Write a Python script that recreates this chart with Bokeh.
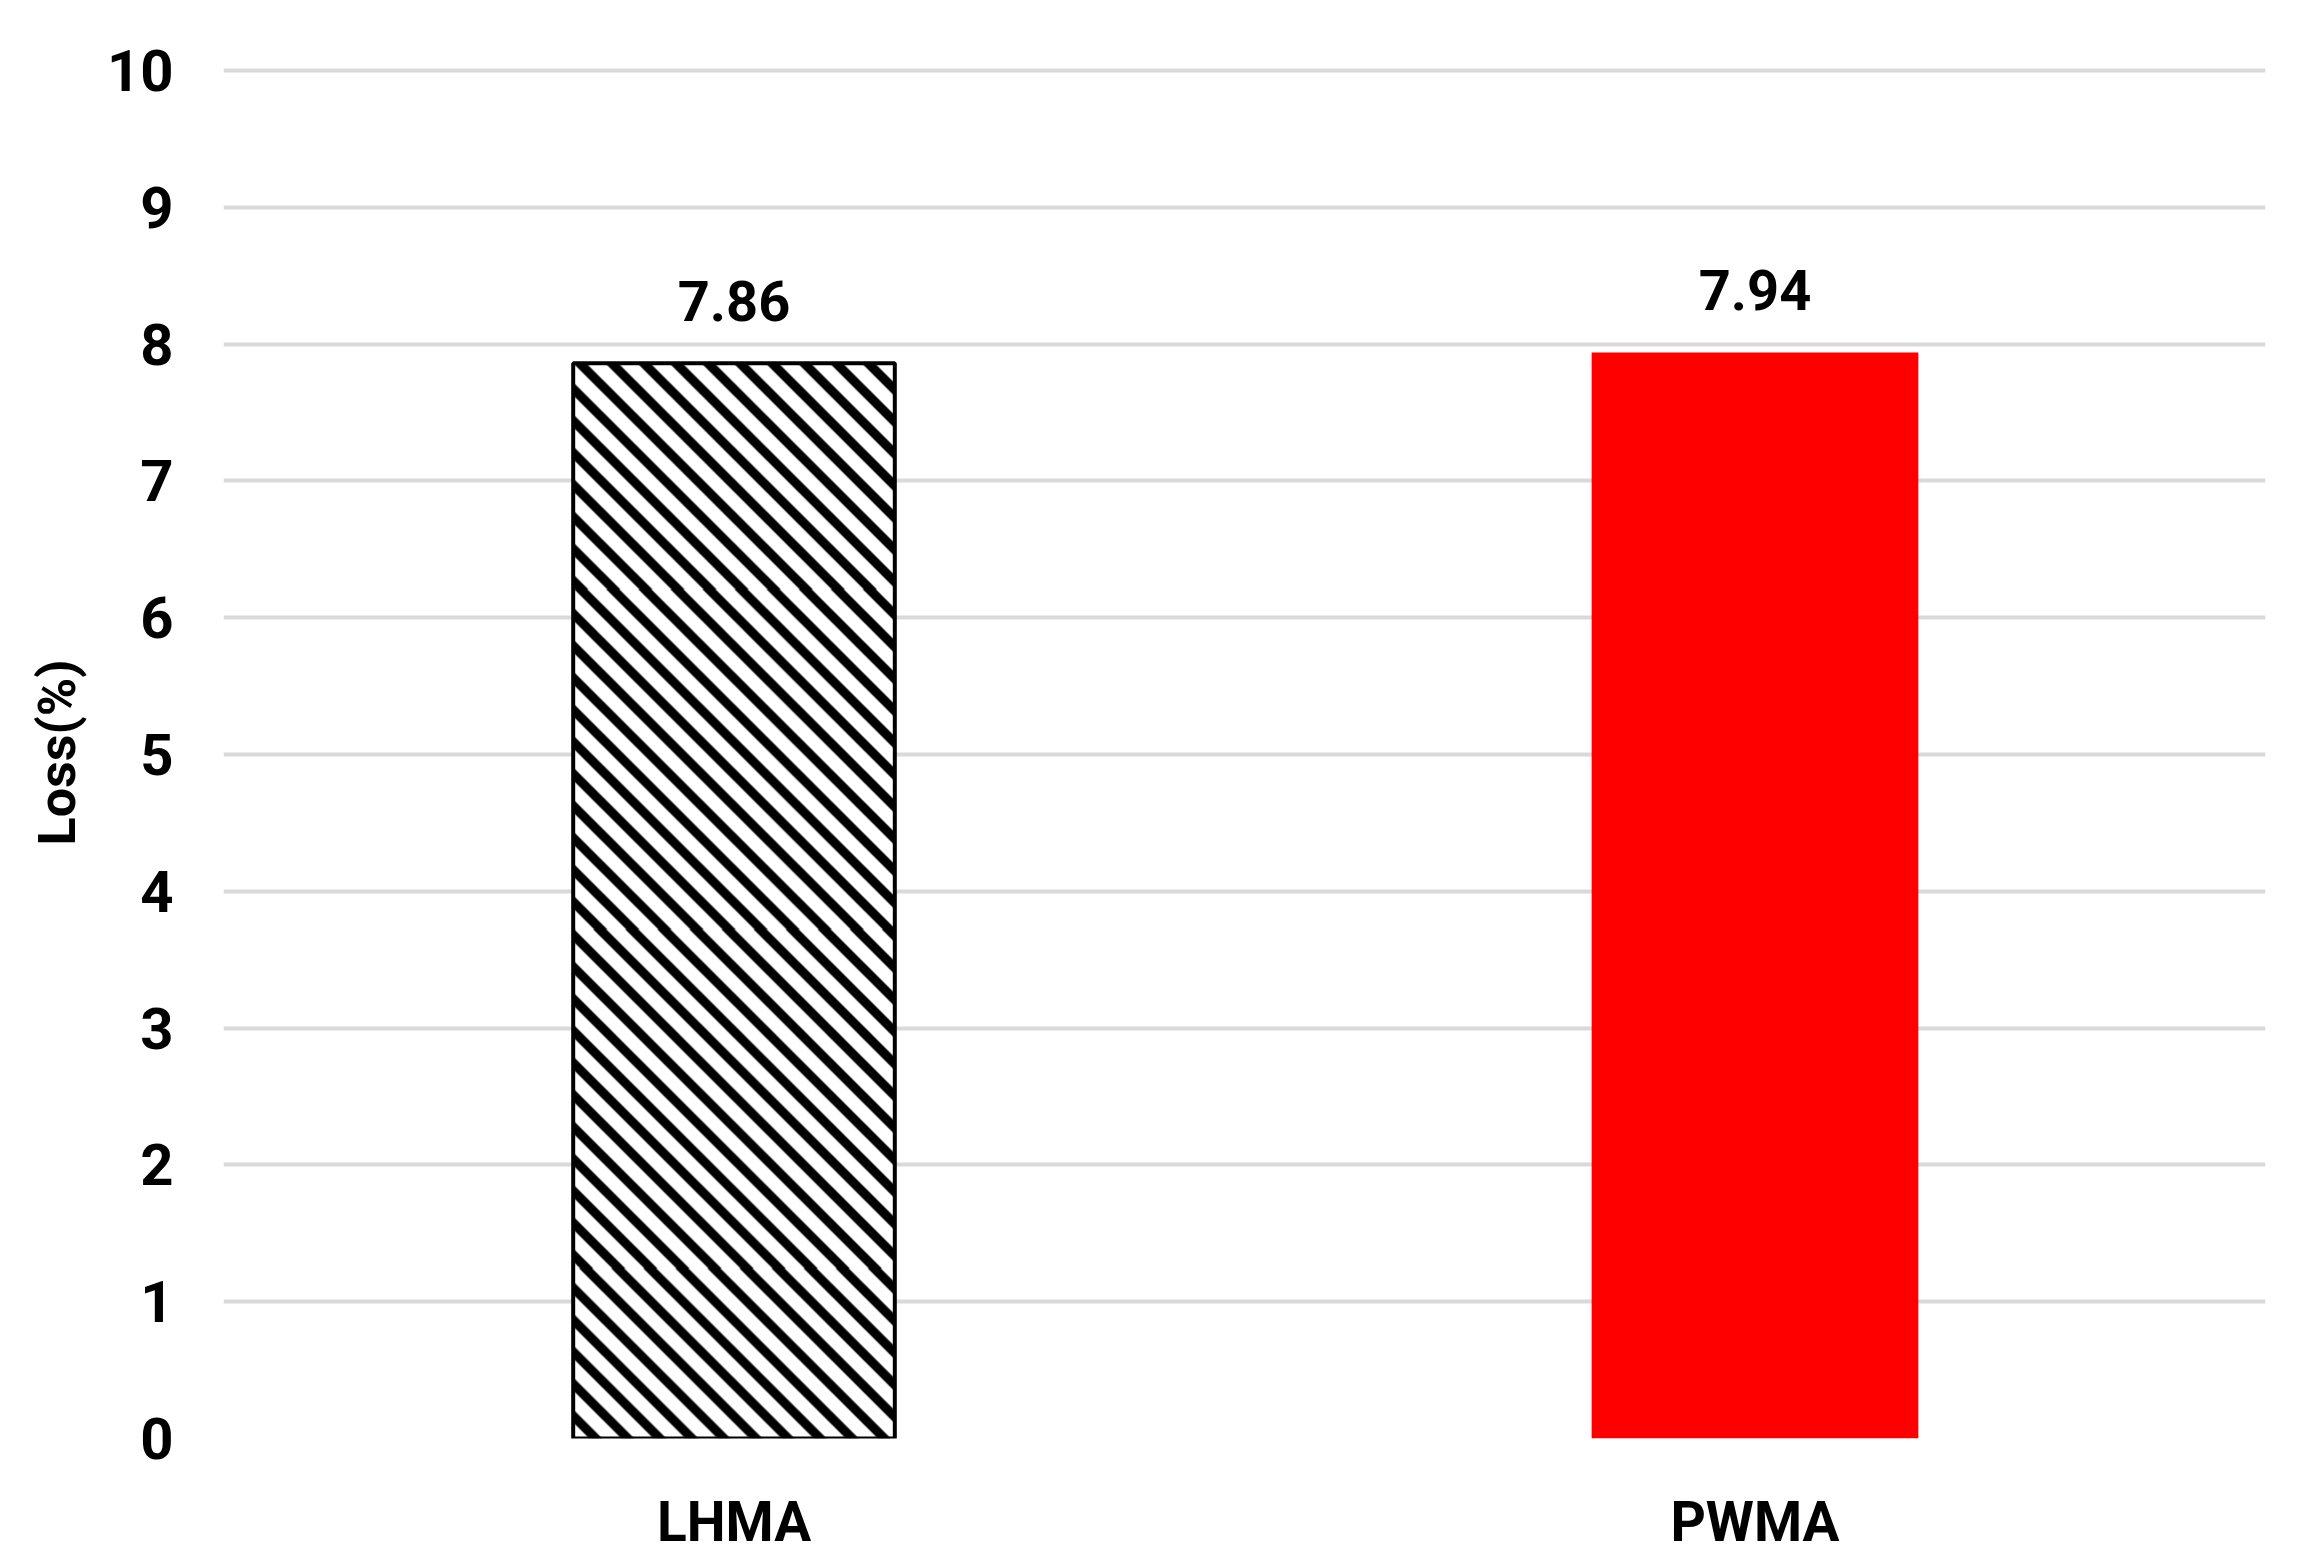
import numpy as np
from bokeh.plotting import figure
from bokeh.models import ColumnDataSource, Range1d, FixedTicker
from bokeh.core.properties import value
from bokeh.embed import file_html
from bokeh.resources import INLINE

categories = ["LHMA", "PWMA"]
loss = [7.86, 7.94]
labels = ["7.86", "7.94"]
y_ticks = [0, 1, 2, 3, 4, 5, 6, 7, 8, 9, 10]

FONT = "Roboto"
BAR_W = 0.315
Y_END = 10.03

W, H = 2294, 1556
BL, BR, BT = 223, 29, 66
p = figure(x_range=categories, y_range=Range1d(0, Y_END),
           width=W, height=H, output_backend="svg", toolbar_location=None,
           min_border_left=BL, min_border_right=BR, min_border_top=BT, min_border_bottom=110)
p.outline_line_color = None
p.background_fill_color = "white"
p.border_fill_color = "white"

# --- hatch texture for the LHMA bar: 45-degree "\" stripes rendered as an image ---
px_per_x = (W - BL - BR) / len(categories)
px_per_y = 1368 / Y_END
nx = int(round(BAR_W * px_per_x))
ny = int(round(loss[0] * px_per_y))
ii = np.arange(nx)[None, :]
jj_down = (ny - 1 - np.arange(ny))[:, None]
period, black_w = 32.0, 13.0
u = np.mod(ii - jj_down, period)
# anti-aliased coverage of black band [0, black_w)
cov = np.clip(np.minimum(u + 0.5, black_w - u + 0.5), 0, 1)
cov = np.maximum(cov, np.clip(u - (period - 0.5), 0, 1))
g = (255 * (1 - cov)).astype(np.uint8)
img = np.empty((ny, nx), dtype=np.uint32)
view = img.view(dtype=np.uint8).reshape((ny, nx, 4))
view[:, :, 0] = g
view[:, :, 1] = g
view[:, :, 2] = g
view[:, :, 3] = 255
x0 = 0.5 - BAR_W / 2
p.image_rgba(image=[img], x=x0, y=0, dw=BAR_W, dh=loss[0])

src_h = ColumnDataSource(dict(x=[categories[0]], top=[loss[0]]))
src_r = ColumnDataSource(dict(x=[categories[1]], top=[loss[1]]))
p.vbar(x="x", top="top", bottom=0, width=BAR_W, source=src_h,
       fill_color=None, line_color="black", line_width=4)
p.vbar(x="x", top="top", bottom=0, width=0.32, source=src_r,
       fill_color="#ff0000", line_color=None)

lab = ColumnDataSource(dict(x=categories, y=loss, t=labels))
p.text(x="x", y="y", text="t", source=lab, text_align="center",
       text_baseline="alphabetic", y_offset=-62,
       text_font=value(FONT), text_font_style="bold", text_font_size="56px",
       text_color="black")

p.xgrid.grid_line_color = None
p.ygrid.grid_line_color = "#d9d9d9"
p.ygrid.grid_line_width = 4
p.ygrid.ticker = FixedTicker(ticks=y_ticks)

p.yaxis.ticker = FixedTicker(ticks=y_ticks)
p.yaxis.axis_line_color = None
p.yaxis.major_tick_line_color = None
p.yaxis.minor_tick_line_color = None
p.yaxis.major_label_standoff = 44
p.yaxis.major_label_text_font = FONT
p.yaxis.major_label_text_font_style = "bold"
p.yaxis.major_label_text_font_size = "58px"
p.yaxis.major_label_text_color = "black"
p.yaxis.axis_label = "Loss(%)"
p.yaxis.axis_label_text_font = FONT
p.yaxis.axis_label_text_font_style = "bold"
p.yaxis.axis_label_text_font_size = "52px"
p.yaxis.axis_label_text_color = "black"
p.yaxis.axis_label_standoff = 16

p.xaxis.axis_line_color = None
p.xaxis.major_tick_line_color = None
p.xaxis.minor_tick_line_color = None
p.xaxis.major_label_standoff = 45
p.xaxis.major_label_text_font = FONT
p.xaxis.major_label_text_font_style = "bold"
p.xaxis.major_label_text_font_size = "55px"
p.xaxis.major_label_text_color = "black"

open("out.html", "w").write(file_html(p, INLINE))
